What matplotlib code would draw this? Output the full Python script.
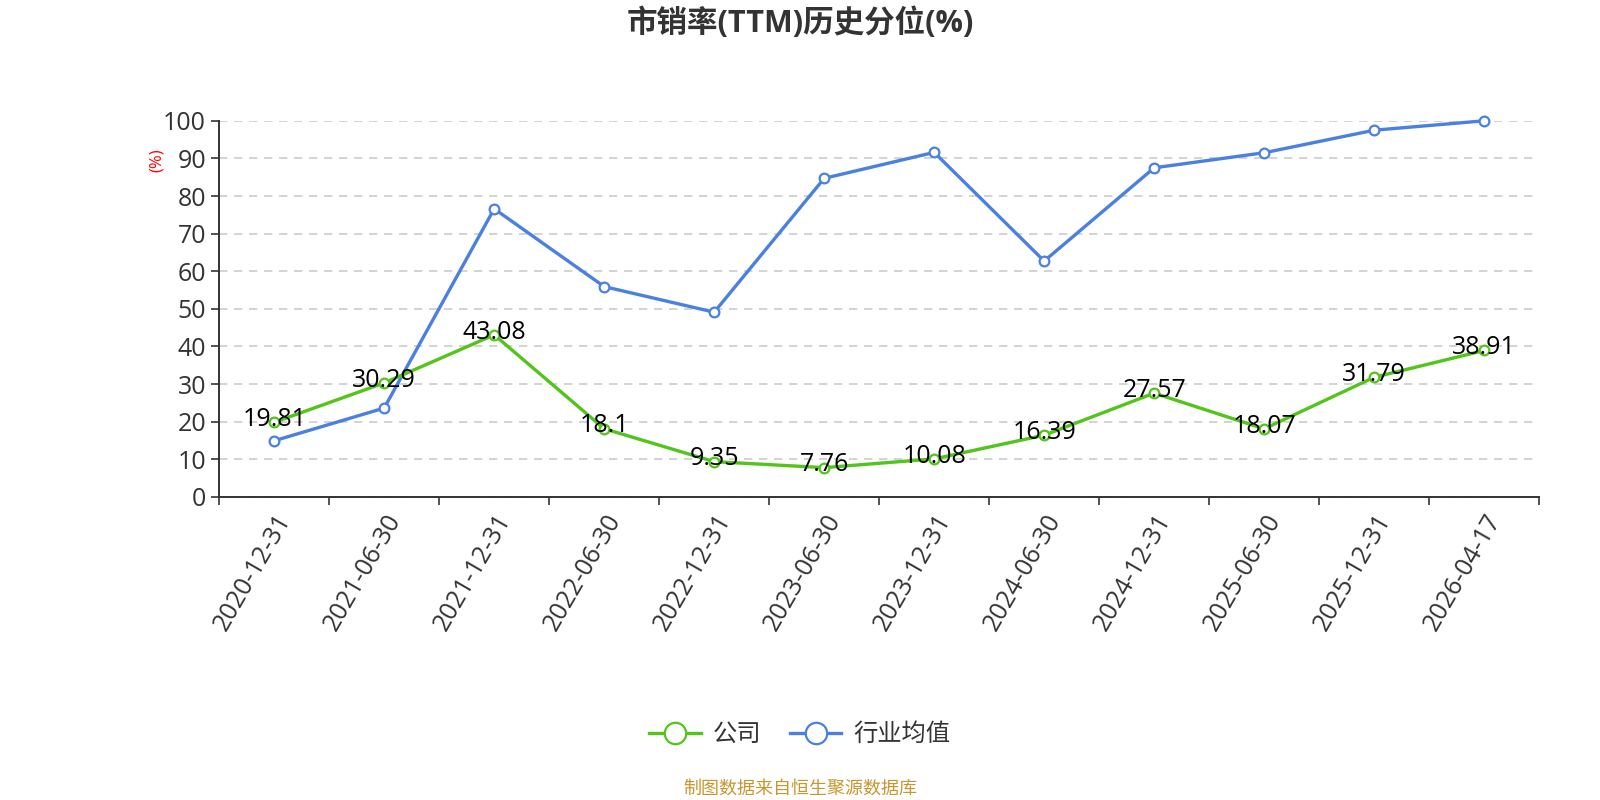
import matplotlib
matplotlib.use("Agg")
import matplotlib.pyplot as plt

plt.rcParams['font.family'] = ['Open Sans', 'Noto Sans CJK SC', 'DejaVu Sans']

dates = ['2020-12-31', '2021-06-30', '2021-12-31', '2022-06-30', '2022-12-31', '2023-06-30',
         '2023-12-31', '2024-06-30', '2024-12-31', '2025-06-30', '2025-12-31', '2026-04-17']
company = [19.81, 30.29, 43.08, 18.1, 9.35, 7.76, 10.08, 16.39, 27.57, 18.07, 31.79, 38.91]
industry = [14.9, 23.6, 76.6, 55.9, 49.1, 84.7, 91.6, 62.7, 87.5, 91.5, 97.5, 100.0]

green = '#52C41A'
blue = '#4A80E0'

fig = plt.figure(figsize=(16, 8), dpi=100)
ax = fig.add_axes([0.137, 0.379, 0.825, 0.47])

x = list(range(len(dates)))
ax.plot(x, industry, color=blue, lw=2.4, marker='o', ms=7, mfc='white', mec=blue, mew=1.6,
        label='行业均值', zorder=3, clip_on=False)
ax.plot(x, company, color=green, lw=2.4, marker='o', ms=7, mfc='white', mec=green, mew=1.6,
        label='公司', zorder=4, clip_on=False)

for xi, v in zip(x, company):
    ax.annotate(f'{v:g}', (xi, v), xytext=(0, 2), textcoords='offset points',
                ha='center', va='center', fontsize=18, color='black', zorder=5)

ax.set_xlim(-0.5, len(dates) - 0.5)
ax.set_ylim(0, 100)
ax.set_yticks(range(0, 101, 10))
ax.set_xticks([i - 0.5 for i in range(len(dates) + 1)])
ax.set_xticklabels([])
ax.set_xticks(x, minor=True)
ax.set_xticklabels(dates, minor=True, rotation=60, ha='right', va='top',
                   rotation_mode='anchor', fontsize=18, color='#333333')
ax.tick_params(axis='x', which='minor', length=0, pad=9)
ax.tick_params(axis='x', which='major', length=6, width=1.2, color='#333333')
ax.tick_params(axis='y', length=6, width=1.2, color='#333333', labelsize=18, labelcolor='#333333')

ax.yaxis.grid(True, linestyle=(0, (5, 4)), color='#cccccc', lw=1.2)
ax.set_axisbelow(True)
for s in ['top', 'right']:
    ax.spines[s].set_visible(False)
for s in ['left', 'bottom']:
    ax.spines[s].set_color('#333333')
    ax.spines[s].set_linewidth(1.4)

fig.text(0.098, 0.80, '(%)', color='red', fontsize=12, rotation=90, ha='center', va='center')
fig.text(0.5, 0.971, '市销率(TTM)历史分位(%)', fontsize=22, fontweight='bold', color='#333333',
         ha='center', va='center')

handles, labels = ax.get_legend_handles_labels()
fig.legend(handles[::-1], labels[::-1], loc='center', bbox_to_anchor=(0.5, 0.081), ncol=2,
           frameon=False, fontsize=17.5, markerscale=2.2, handlelength=2.1, columnspacing=1.2,
           handletextpad=0.5, labelcolor='#333333')

fig.text(0.5, 0.014, '制图数据来自恒生聚源数据库', color='#C8962E', fontsize=13,
         ha='center', va='center')

fig.savefig('out.png', dpi=100)
